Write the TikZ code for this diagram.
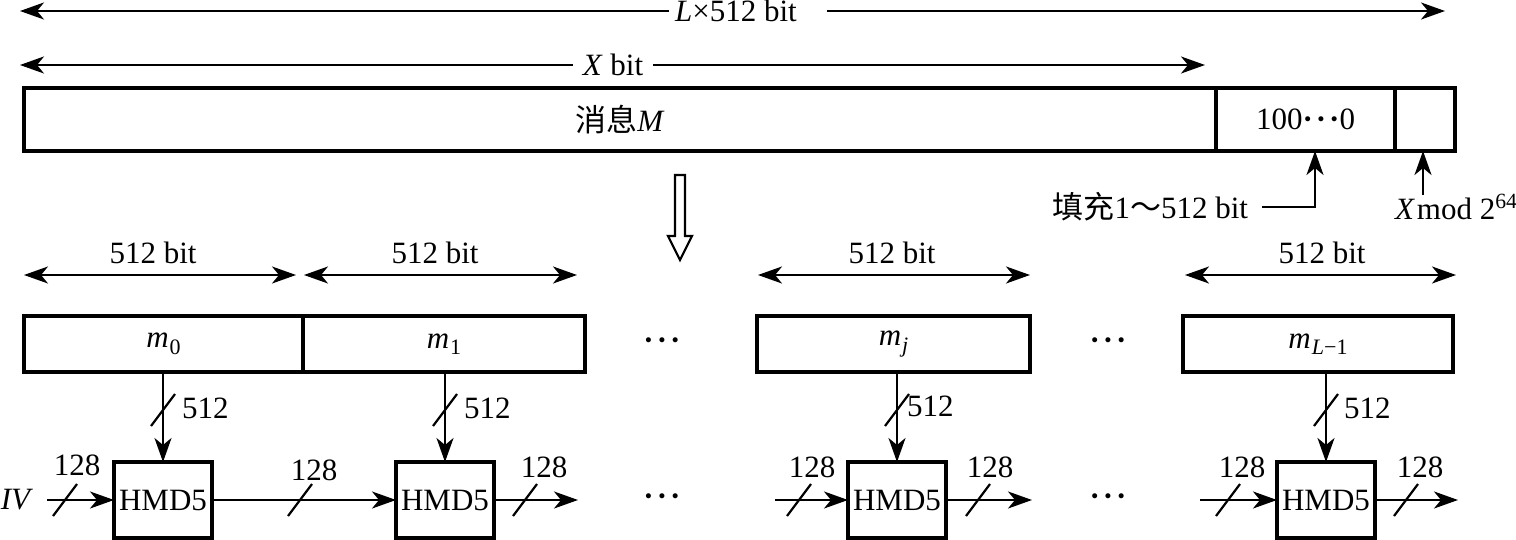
\documentclass[tikz,border=0pt]{standalone}
\usepackage{fontspec}
\setmainfont{Liberation Serif}
\newfontfamily\cjk{Noto Sans CJK SC}
\usetikzlibrary{arrows.meta}
\newcommand{\mysub}[1]{\kern0.5pt\raisebox{-0.45ex}{\fontsize{11}{12}\selectfont #1}}
\newcommand{\mydots}{{\bfseries ·\kern1.5pt·\kern1.5pt·}}
\begin{document}
\begin{tikzpicture}[x=0.5pt,y=-0.5pt,
  every node/.style={font=\fontsize{15.5}{17}\selectfont, inner sep=1pt, outer sep=0pt},
  tip/.style={},
  arr/.style={line width=1.1pt, -{Stealth[length=12pt,width=8.5pt,inset=3.5pt]}},
  darr/.style={line width=1.1pt, {Stealth[length=12pt,width=8.5pt,inset=3.5pt]}-{Stealth[length=12pt,width=8.5pt,inset=3.5pt]}},
  bigbox/.style={draw, line width=1.6pt, minimum height=28pt, inner sep=0pt},
  msgbox/.style={draw, line width=1.6pt, minimum height=31.5pt, inner sep=0pt},
  hbox/.style={draw, line width=1.6pt, minimum height=38pt, minimum width=49pt, inner sep=0pt},
  slashline/.style={line width=1.1pt}
]
\useasboundingbox (0,0) rectangle (1516,540);

% top dimension lines
\node (Ltxt) at (736,11) {\textit{L}×512 bit};
\coordinate (Lleft) at (20,11);
\coordinate (Lright) at (1445,11);
\draw[arr] ([xshift=-2pt]Ltxt.west) -- (Lleft);
\draw[arr] ([xshift=14pt]Ltxt.east) -- (Lright);

\node (Xtxt) at (613,65) {\textit{X} bit};
\coordinate (Xleft) at (20,65);
\coordinate (Xright) at (1205,65);
\draw[arr] ([xshift=-4pt]Xtxt.west) -- (Xleft);
\draw[arr] ([xshift=4pt]Xtxt.east) -- (Xright);

% message box
\node[msgbox, minimum width=596pt] (msg) at (620,119.5) {{\cjk 消息}\textit{M}};
\node[msgbox, minimum width=89.5pt] (pad) at (1305.5,119.5) {100\mydots 0};
\node[msgbox, minimum width=30pt] (len) at (1425,119.5) {};

% padding annotations
\node[anchor=east] (padtxt) at (1250,207) {{\cjk 填充}1{\cjk ～}512 bit};
\coordinate (padc) at (1315,207);
\draw[arr] ([xshift=6pt]padtxt.east) -- (padc) -- (padc |- pad.south);
\node[anchor=west] (lentxt) at (1393,207) {\textit{X}\kern1pt mod 2\textsuperscript{64}};
\coordinate (lenc) at (1423,195);
\draw[arr] (lenc) -- (lenc |- len.south);

% hollow down arrow
\draw[line width=1.1pt] (675,175) -- (685,175) -- (685,236) -- (692,236) -- (680,260) -- (668,236) -- (675,236) -- cycle;

% 512 bit dimension arrows
\node (d0) at (153,253) {512 bit};
\node (d1) at (435,253) {512 bit};
\node (dj) at (892,253) {512 bit};
\node (dL) at (1322,253) {512 bit};
\coordinate (a0l) at (24,275); \coordinate (a0r) at (296,275);
\coordinate (a1l) at (304,275); \coordinate (a1r) at (577,275);
\coordinate (ajl) at (758,275); \coordinate (ajr) at (1030,275);
\coordinate (aLl) at (1185,275); \coordinate (aLr) at (1456,275);
\draw[darr] (a0l) -- (a0r);
\draw[darr] (a1l) -- (a1r);
\draw[darr] (ajl) -- (ajr);
\draw[darr] (aLl) -- (aLr);

% blocks
\node[bigbox, minimum width=139.5pt] (m0) at (163.5,344) {\textit{m}\mysub{0}};
\node[bigbox, minimum width=141pt] (m1) at (444,344) {\textit{m}\mysub{1}};
\node (dots1) at (662,344) {\mydots};
\node[bigbox, minimum width=136.5pt] (mj) at (893.5,344) {\textit{m}\mysub{\textit{j}}};
\node (dots2) at (1108,344) {\mydots};
\node[bigbox, minimum width=135pt] (mL) at (1318,344) {\textit{m}\mysub{\textit{L}−1}};

% HMD5 boxes
\node[hbox] (h0) at (163,500) {HMD5};
\node[hbox] (h1) at (445,500) {HMD5};
\node (dots3) at (662,500) {\mydots};
\node[hbox] (hj) at (897,500) {HMD5};
\node (dots4) at (1108,500) {\mydots};
\node[hbox] (hL) at (1326,500) {HMD5};

% vertical arrows with slashes
\foreach \h/\m in {h0/m0, h1/m1, hj/mj, hL/mL} {
  \draw[arr] (\h.north |- \m.south) -- (\h.north);
  \draw[slashline] ([shift={(-12,16)}]\h.north |- 0,410) -- ([shift={(12,-16)}]\h.north |- 0,410);
}
\node[anchor=west] (n0) at (180,408) {512};
\node[anchor=west] (n1) at (462,408) {512};
\node[anchor=west] (nj) at (905,406) {512};
\node[anchor=west] (nL) at (1342,408) {512};

% horizontal chaining
\node (iv) at (17,500) {\textit{IV}};
\draw[arr] (iv.east) ++(6pt,0) -- (h0.west);
\draw[slashline] (53,516) -- (77,484);
\node (c0) at (77,465) {128};

\draw[arr] (h0.east) -- (h1.west);
\draw[slashline] (288,516) -- (312,484);
\node (c1) at (314,470) {128};

\coordinate (o1) at (578,500);
\draw[arr] (h1.east) -- (o1);
\draw[slashline] (513,516) -- (537,484);
\node (c2) at (544,467) {128};

\coordinate (ij) at (775,500);
\draw[arr] (ij) -- (hj.west);
\draw[slashline] (787,516) -- (811,484);
\node (c3) at (812,467) {128};
\coordinate (oj) at (1032,500);
\draw[arr] (hj.east) -- (oj);
\draw[slashline] (966,516) -- (990,484);
\node (c4) at (990,467) {128};

\coordinate (iL) at (1200,500);
\draw[arr] (iL) -- (hL.west);
\draw[slashline] (1216,516) -- (1240,484);
\node (c5) at (1242,467) {128};
\coordinate (oL) at (1458,500);
\draw[arr] (hL.east) -- (oL);
\draw[slashline] (1394,516) -- (1418,484);
\node (c6) at (1420,467) {128};
\end{tikzpicture}
\end{document}
